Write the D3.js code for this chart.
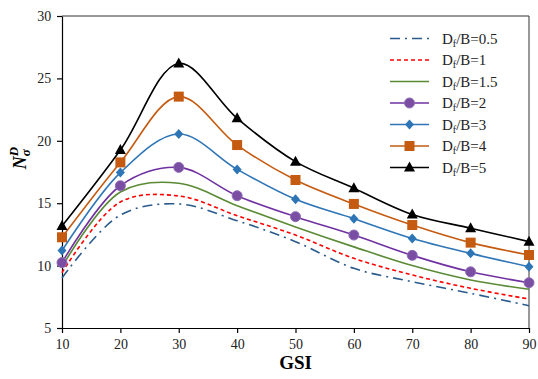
<!DOCTYPE html>
<html>
<head>
<meta charset="utf-8">
<script src="https://cdn.jsdelivr.net/npm/d3@7"></script>
<style>
  body { margin: 0; background: #fff; }
  svg text { font-family: "Liberation Serif", "Times New Roman", serif; }
</style>
</head>
<body>
<div id="chart"></div>
<script>
// GSI values on the x axis
const gsi = [10, 20, 30, 40, 50, 60, 70, 80, 90];

// N_sigma^D for each Df/B
const db05 = [9.0, 14.05, 14.94, 13.6, 11.92, 9.78, 8.71, 7.78, 6.79];
const db1  = [9.43, 15.1, 15.58, 14.0, 12.45, 10.58, 9.25, 8.18, 7.32];
const db15 = [9.9, 15.9, 16.6, 14.8, 13.1, 11.5, 10.0, 8.85, 8.1];
const db2  = [10.24, 16.4, 17.87, 15.6, 13.92, 12.45, 10.82, 9.5, 8.63];
const db3  = [11.2, 17.45, 20.54, 17.71, 15.31, 13.76, 12.18, 10.98, 9.91];
const db4  = [12.27, 18.27, 23.54, 19.66, 16.86, 14.94, 13.25, 11.84, 10.85];
const db5  = [13.17, 19.26, 26.2, 21.8, 18.33, 16.2, 14.1, 13.0, 11.92];

const seriesNames = ["0.5", "1", "1.5", "2", "3", "4", "5"];
const xTicks = [10, 20, 30, 40, 50, 60, 70, 80, 90];
const yTicks = [5, 10, 15, 20, 25, 30];

const series = [
  {name: seriesNames[0], values: db05, color: "#2a5a8c", dash: "10,5,2,5", marker: null},
  {name: seriesNames[1], values: db1,  color: "#ff0000", dash: "4,3", marker: null},
  {name: seriesNames[2], values: db15, color: "#5a8a35", dash: null, marker: null},
  {name: seriesNames[3], values: db2,  color: "#7030a0", dash: null, marker: "circle"},
  {name: seriesNames[4], values: db3,  color: "#2e75b6", dash: null, marker: "diamond"},
  {name: seriesNames[5], values: db4,  color: "#c55a11", dash: null, marker: "square"},
  {name: seriesNames[6], values: db5,  color: "#000000", dash: null, marker: "triangle"}
];

const width = 538, height = 379;
const margin = {left: 62, right: 9, top: 16, bottom: 51};

const svg = d3.select("#chart").append("svg")
  .attr("width", width)
  .attr("height", height);

const x = d3.scaleLinear().domain([10, 90]).range([margin.left, width - margin.right]);
const y = d3.scaleLinear().domain([5, 30]).range([height - margin.bottom, margin.top]);

// frame (top + right)
svg.append("path")
  .attr("d", `M${x(10)},${y(30)}H${x(90)}V${y(5)}`)
  .attr("fill", "none")
  .attr("stroke", "#333")
  .attr("stroke-width", 1);

const xAxis = svg.append("g")
  .attr("transform", `translate(0,${y(5)})`)
  .call(d3.axisBottom(x).tickValues(xTicks).tickSize(5).tickSizeOuter(0));
const yAxis = svg.append("g")
  .attr("transform", `translate(${x(10)},0)`)
  .call(d3.axisLeft(y).tickValues(yTicks).tickSize(5).tickSizeOuter(0));

[xAxis, yAxis].forEach(g => {
  g.attr("font-family", null);
  g.selectAll("path, line").attr("stroke", "#000").attr("stroke-width", 1.2);
  g.selectAll("text").attr("font-size", 14).attr("fill", "#222");
});
xAxis.selectAll("text").attr("dy", "0.9em");
yAxis.selectAll("text").attr("dx", "-0.2em");

// axis titles
svg.append("text")
  .attr("x", (x(10) + x(90)) / 2)
  .attr("y", 369)
  .attr("text-anchor", "middle")
  .attr("font-size", 19)
  .attr("font-weight", "bold")
  .text("GSI");

const yt = svg.append("text")
  .attr("transform", "translate(26,158) rotate(-90)")
  .attr("text-anchor", "middle")
  .attr("font-size", 18)
  .attr("font-weight", "bold")
  .attr("font-style", "italic");
yt.append("tspan").text("N");
yt.append("tspan").attr("font-size", 13).attr("dy", 4).text("σ");
yt.append("tspan").attr("font-size", 13).attr("dy", -12).attr("dx", -7).text("D");

const line = d3.line()
  .x((d, i) => x(gsi[i]))
  .y(d => y(d))
  .curve(d3.curveCatmullRom.alpha(0.5));

function drawMarker(g, type, cx, cy, color) {
  if (type === "circle") {
    g.append("circle").attr("cx", cx).attr("cy", cy).attr("r", 5)
      .attr("fill", "#7a4fa3").attr("stroke", "#8e6bb5").attr("stroke-width", 1);
  } else if (type === "diamond") {
    g.append("path").attr("d", `M${cx},${cy - 5}L${cx + 4.5},${cy}L${cx},${cy + 5}L${cx - 4.5},${cy}Z`)
      .attr("fill", color);
  } else if (type === "square") {
    g.append("rect").attr("x", cx - 5).attr("y", cy - 5).attr("width", 10).attr("height", 10)
      .attr("fill", color);
  } else if (type === "triangle") {
    g.append("path").attr("d", `M${cx},${cy - 6}L${cx + 5.5},${cy + 4}L${cx - 5.5},${cy + 4}Z`)
      .attr("fill", color);
  }
}

series.forEach(s => {
  svg.append("path")
    .datum(s.values)
    .attr("d", line)
    .attr("fill", "none")
    .attr("stroke", s.color)
    .attr("stroke-width", 1.6)
    .attr("stroke-dasharray", s.dash);
  if (s.marker) {
    const g = svg.append("g");
    s.values.forEach((v, i) => drawMarker(g, s.marker, x(gsi[i]), y(v), s.color));
  }
});

// legend
const legend = svg.append("g");
series.forEach((s, i) => {
  const ly = 38.5 + i * 21.5;
  legend.append("line")
    .attr("x1", 390).attr("x2", 429).attr("y1", ly).attr("y2", ly)
    .attr("stroke", s.color).attr("stroke-width", 1.6)
    .attr("stroke-dasharray", s.dash);
  if (s.marker) drawMarker(legend, s.marker, 409.5, ly, s.color);
  const t = legend.append("text")
    .attr("x", 442).attr("y", ly + 5)
    .attr("font-size", 15).attr("fill", "#222");
  t.append("tspan").text("D");
  t.append("tspan").attr("font-size", 10).attr("dy", 3).text("f");
  t.append("tspan").attr("dy", -3).text("/B=" + s.name);
});
</script>
</body>
</html>
